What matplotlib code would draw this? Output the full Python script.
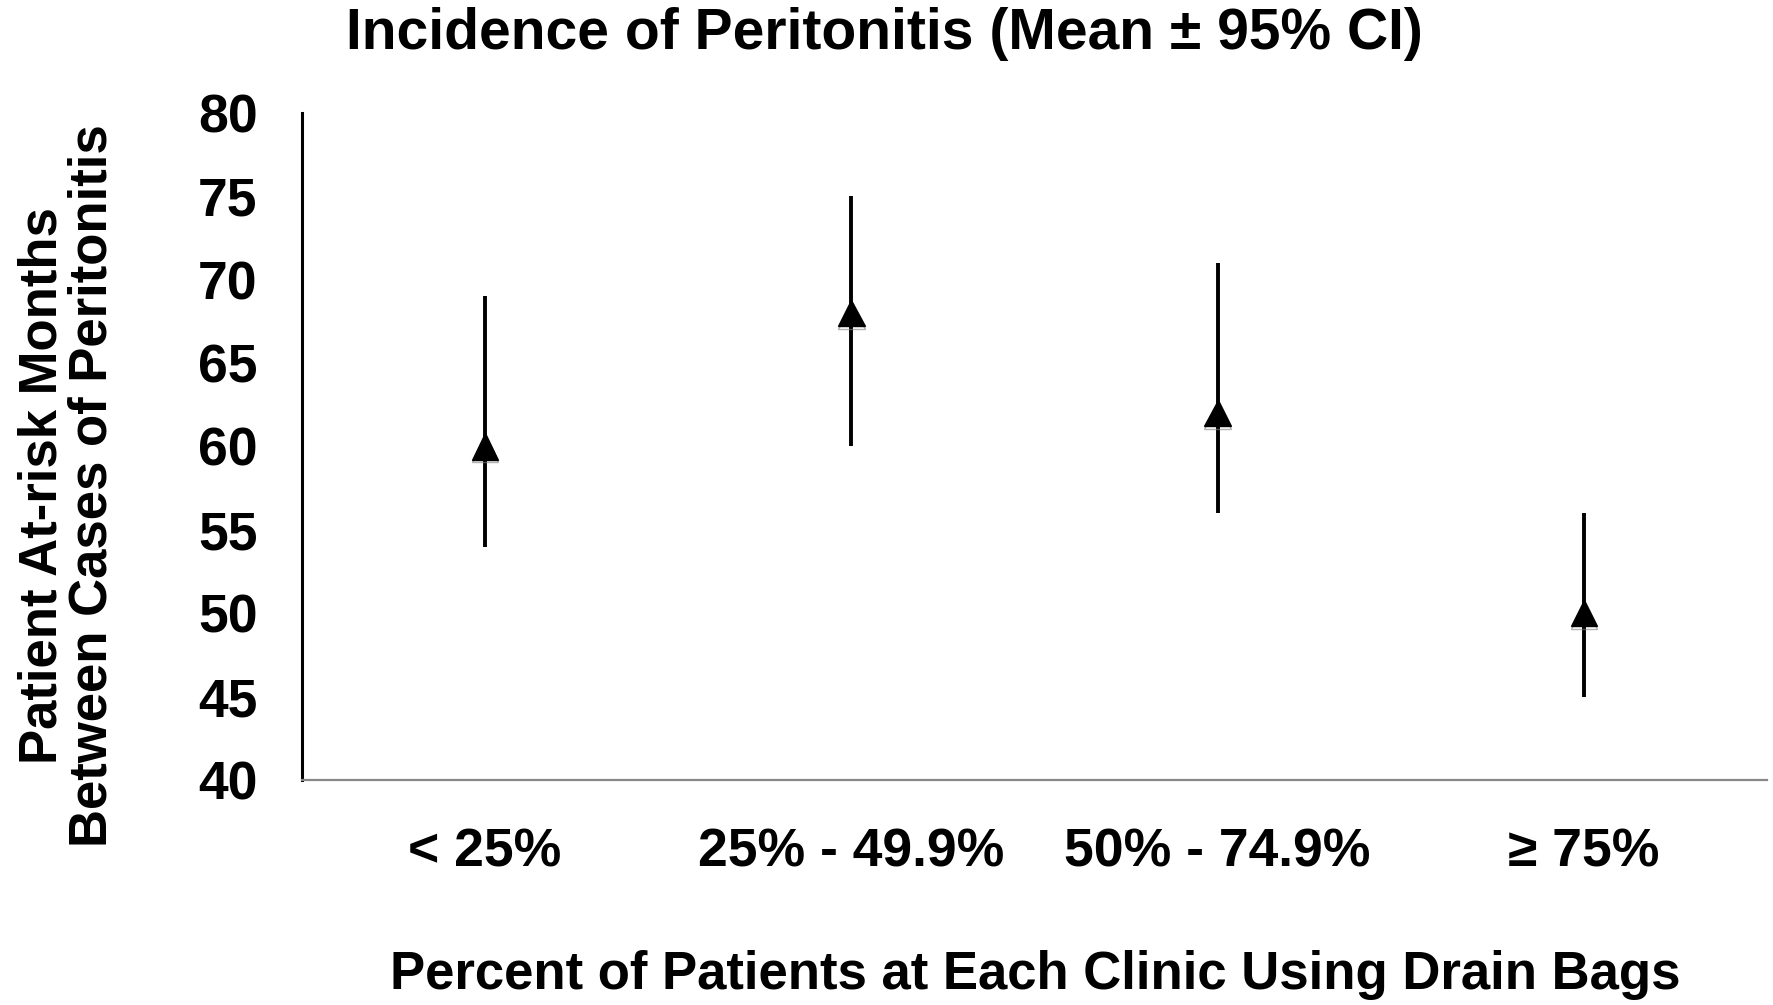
import matplotlib
matplotlib.use('Agg')
import matplotlib.pyplot as plt
import matplotlib.patheffects as pe
from matplotlib.font_manager import FontProperties

# data
categories = ['< 25%', '25% - 49.9%', '50% - 74.9%', '\u2265 75%']
means = [60, 68, 62, 50]
ci_low = [54, 60, 56, 45]
ci_high = [69, 75, 71, 56]
yticks = [40, 45, 50, 55, 60, 65, 70, 75, 80]

W, H = 1773, 1005
fig = plt.figure(figsize=(W / 100, H / 100), dpi=100)
ax = fig.add_axes([302 / W, 1 - 780 / H, (1767 - 302) / W, (780 - 113) / H])

xs = [i + 0.5 for i in range(len(categories))]
yerr = [[m - lo for m, lo in zip(means, ci_low)],
        [hi - m for m, hi in zip(means, ci_high)]]

ax.errorbar(xs, means, yerr=yerr, fmt='none', ecolor='black', elinewidth=2.8, capsize=0, zorder=2)
# soft shadow under the triangles
ax.plot(xs, means, linestyle='none', marker='^', markersize=19, color='black',
        zorder=3,
        path_effects=[pe.SimpleLineShadow(offset=(0, -2), shadow_color='gray', alpha=0.6, rho=1),
                      pe.Normal()])

ax.set_xlim(0, len(categories))
ax.set_ylim(40, 80)
ax.set_yticks(yticks)
ax.set_xticks(xs)
ax.set_xticklabels(categories)

fam = ['Liberation Sans', 'DejaVu Sans']
tick_fp = FontProperties(family=fam, weight='bold', size=38.5)
for lab in ax.get_yticklabels() + ax.get_xticklabels():
    lab.set_fontproperties(tick_fp)
ax.tick_params(axis='y', length=0, pad=32)
ax.tick_params(axis='x', length=0, pad=34)

for s in ('top', 'right'):
    ax.spines[s].set_visible(False)
ax.spines['left'].set_linewidth(2.2)
ax.spines['left'].set_color('black')
ax.spines['bottom'].set_linewidth(1.6)
ax.spines['bottom'].set_color('#888888')

fig.text(884 / W, 1 - 34 / H, 'Incidence of Peritonitis (Mean \u00b1 95% CI)',
         ha='center', va='center', fontsize=41, weight='bold',
         family=['Liberation Sans Narrow', 'Liberation Sans', 'DejaVu Sans'])
fig.text(1035 / W, 1 - 975 / H, 'Percent of Patients at Each Clinic Using Drain Bags',
         ha='center', va='center', fontsize=38, weight='bold', family=fam)
fig.text(68 / W, 1 - 486 / H, 'Patient At-risk Months\nBetween Cases of Peritonitis',
         ha='center', va='center', rotation=90, fontsize=38, linespacing=1.0,
         weight='bold', family=fam)

fig.savefig('out.png', dpi=100)
